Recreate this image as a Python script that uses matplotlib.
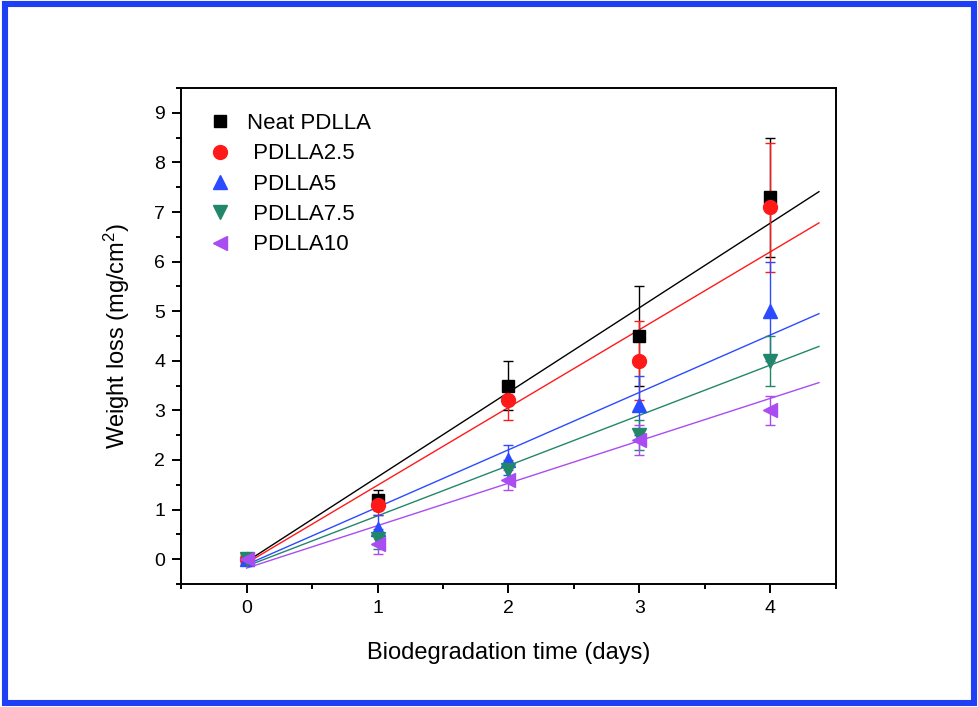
import matplotlib as mpl
mpl.use("Agg")
import matplotlib.pyplot as plt
from matplotlib.lines import Line2D
from matplotlib.patches import Rectangle
from matplotlib.ticker import MultipleLocator

mpl.rcParams.update({
    "font.family": ["Liberation Sans", "DejaVu Sans"],
    "mathtext.default": "regular",
    "axes.linewidth": 1.4,
})

# measured weight loss (mg/cm^2) vs. days, with error bars
days = [0, 1, 2, 3, 4]
neat = [0, 1.2, 3.5, 4.5, 7.3]
neat_err = [0, 0.2, 0.5, 1.0, 1.2]
p25 = [0, 1.1, 3.2, 4.0, 7.1]
p25_err = [0, 0.2, 0.4, 0.8, 1.3]
p5 = [0, 0.6, 2.0, 3.1, 5.0]
p5_err = [0, 0.3, 0.3, 0.6, 1.0]
p75 = [0, 0.4, 1.8, 2.5, 4.0]
p75_err = [0, 0.2, 0.2, 0.3, 0.5]
p10 = [0, 0.3, 1.6, 2.4, 3.0]
p10_err = [0, 0.2, 0.2, 0.3, 0.3]

# linear-fit lines, endpoints
fit_x = [0, 4.37]
neat_fit = [-0.05, 7.41]
p25_fit = [-0.08, 6.78]
p5_fit = [-0.11, 4.95]
p75_fit = [-0.14, 4.29]
p10_fit = [-0.18, 3.56]

labels = ["Neat PDLLA", " PDLLA2.5", " PDLLA5", " PDLLA7.5", " PDLLA10"]
series = [(neat, neat_err, neat_fit), (p25, p25_err, p25_fit), (p5, p5_err, p5_fit),
          (p75, p75_err, p75_fit), (p10, p10_err, p10_fit)]
colors = ["#000000", "#FF1A1A", "#2A4BFF", "#22876A", "#A94CF2"]
markers = ["s", "o", "^", "v", "<"]
msizes = [8.6, 10, 10.5, 10.5, 10.5]

fig = plt.figure(figsize=(9.79, 7.07), dpi=100)
ax = fig.add_axes([0.1849, 0.174, 0.669, 0.7015])

handles = []
for (y, e, f), c, m, ms, lab in zip(series, colors, markers, msizes, labels):
    ax.errorbar(days, y, yerr=e, fmt=m, color=c, ms=ms, mec=c, elinewidth=1.0,
                capsize=3.6, capthick=1.0, zorder=3)
    ax.plot(fit_x, f, "-", color=c, lw=1.0, zorder=2)
    handles.append(Line2D([], [], ls="none", marker=m, color=c, ms=ms, label=lab))

ax.set_xlim(-0.5, 4.5)
ax.set_ylim(-0.5, 9.5)
ax.xaxis.set_major_locator(MultipleLocator(1))
ax.xaxis.set_minor_locator(MultipleLocator(0.5))
ax.yaxis.set_major_locator(MultipleLocator(1))
ax.yaxis.set_minor_locator(MultipleLocator(0.5))
ax.tick_params(which="both", direction="out", width=1.4, labelsize=14, top=False, right=False)
ax.tick_params(which="major", length=6.5, pad=5)
ax.tick_params(which="minor", length=3.5)

ax.set_xlabel("Biodegradation time (days)", fontsize=17, labelpad=18)
ax.set_ylabel("Weight loss (mg/cm$^2$)", fontsize=17, labelpad=16)

ax.legend(handles=handles, loc="upper left", bbox_to_anchor=(0.012, 0.99), frameon=False,
          fontsize=16, handlelength=1.0, handletextpad=0.7, labelspacing=0.42,
          borderaxespad=0.5)

fig.patches.append(Rectangle((0.005, 0.005), 0.99, 0.99, transform=fig.transFigure,
                             fill=False, ec="#1F3FF5", lw=4.4))

fig.savefig("out.png", dpi=100)
